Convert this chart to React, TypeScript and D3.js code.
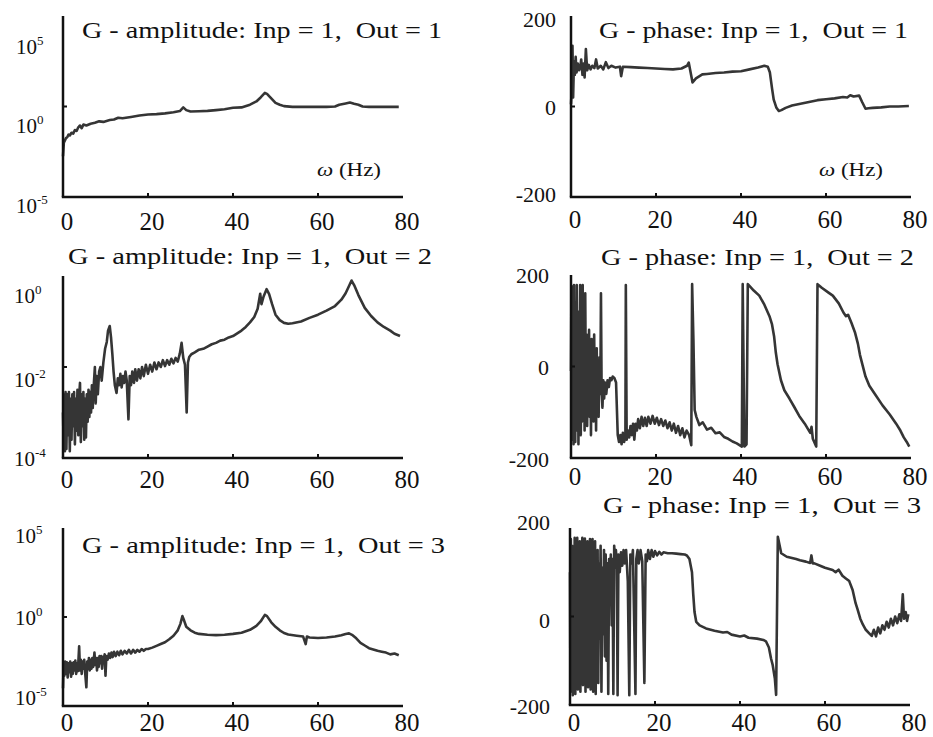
import React from "react";
import * as d3 from "d3";

// ---------- DATA (frequency in Hz, value) ----------
const FREQ_TICKS = [0, 20, 40, 60, 80];
const INNER_FREQ_TICKS = [20, 40, 60];

// amplitude series stored as log10(|G|)
const amp11: [number, number][] = [
  [0, -2.75], [0.2, -2.0], [0.4, -1.9], [0.7, -1.75], [1.0, -1.7], [1.3, -1.55], [1.6, -1.6],
  [2.0, -1.45], [2.4, -1.5], [2.8, -1.3], [3.2, -1.35], [3.6, -1.15], [4.0, -1.05], [4.4, -1.2],
  [4.8, -1.0], [5.5, -1.05], [6.5, -0.95], [7.5, -0.9], [8.5, -0.82], [9.5, -0.85], [11, -0.75],
  [12, -0.72], [13, -0.62], [14, -0.65], [16, -0.58], [18, -0.5], [20, -0.44], [22, -0.42],
  [24, -0.38], [26, -0.32], [27.5, -0.25], [28.3, -0.05], [29, -0.2], [30, -0.28], [32, -0.26],
  [34, -0.24], [36, -0.2], [38, -0.15], [40, -0.07], [42, -0.05], [44, 0.1], [45.5, 0.28],
  [46.5, 0.5], [47.5, 0.75], [48, 0.7], [49, 0.45], [50, 0.2], [51, 0.1], [52, 0.02],
  [54, -0.02], [56, -0.02], [58, -0.02], [60, -0.02], [62, -0.02], [64, 0.0], [65, 0.1],
  [66.5, 0.17], [67.5, 0.22], [68.5, 0.15], [69.5, 0.1], [70.5, 0.0], [72, -0.02], [75, -0.02],
  [79, -0.02],
];

const phase11: [number, number][] = [
  [0.0, 5], [0.2, 40], [0.35, 134], [0.5, 20], [0.7, 100], [0.9, 70], [1.1, 110], [1.3, 75],
  [1.6, 95], [1.9, 80], [2.2, 88], [2.4, 104], [2.7, 70], [3.0, 95], [3.2, 64], [3.5, 127],
  [3.8, 80], [4.2, 92], [4.6, 82], [5.0, 90], [5.5, 85], [5.9, 104], [6.3, 84], [7.0, 90],
  [7.6, 82], [8.2, 98], [8.8, 85], [9.5, 90], [10.5, 86], [11.5, 88], [11.8, 67], [12.2, 88],
  [14, 87], [16, 86], [18, 85], [20, 84], [22, 83], [24, 82], [26, 84], [27.3, 90], [27.7, 97],
  [28.6, 53], [29.4, 62], [30.9, 71], [32, 72], [34, 74], [36, 75], [38, 77], [40, 78],
  [42, 82], [44, 86], [45.5, 90], [46.3, 88], [46.8, 75], [47.3, 40], [47.7, 15], [48.3, -2],
  [48.9, -10], [49.5, -8], [50.5, -3], [52, 2], [54, 6], [56, 10], [58, 14], [60, 16], [62, 18],
  [64, 21], [65, 20], [65.7, 25], [66.5, 22], [67.8, 24], [68.5, 10], [69.3, -5], [70, -4],
  [71, -3], [73, -2], [75, 0], [77, 0], [79.5, 1],
];

const amp12: [number, number][] = [
  [0.0, -3.0], [0.15, -3.7], [0.3, -2.6], [0.45, -3.85], [0.6, -2.55], [0.8, -3.8], [1.0, -2.6],
  [1.2, -3.5], [1.4, -2.55], [1.6, -3.85], [1.8, -2.7], [2.0, -3.6], [2.2, -2.6], [2.4, -3.3],
  [2.6, -2.55], [2.8, -3.7], [3.0, -2.7], [3.2, -3.4], [3.4, -2.5], [3.6, -3.5], [3.8, -2.65],
  [4.0, -2.35], [4.2, -3.65], [4.4, -2.6], [4.6, -3.3], [4.8, -2.55], [5.0, -3.6], [5.2, -2.7],
  [5.4, -3.55], [5.6, -2.6], [5.8, -3.2], [6.0, -2.5], [6.2, -3.1], [6.4, -2.55], [6.6, -3.0],
  [6.8, -2.4], [7.0, -2.9], [7.2, -2.45], [7.5, -2.0], [7.7, -2.8], [7.9, -2.2], [8.2, -2.6],
  [8.5, -2.1], [8.8, -2.0], [9.1, -2.3], [9.5, -1.9], [9.9, -1.6], [10.3, -1.45], [10.6, -1.2],
  [11.0, -1.1], [11.3, -1.35], [11.6, -1.7], [11.9, -2.1], [12.2, -2.4], [12.6, -2.57],
  [12.9, -2.25], [13.2, -2.4], [13.5, -2.15], [13.8, -2.45], [14.1, -2.2], [14.4, -2.35],
  [14.7, -2.1], [15.0, -2.3], [15.4, -3.15], [15.7, -2.2], [16.0, -2.4], [16.3, -2.1],
  [16.7, -2.35], [17.0, -2.05], [17.4, -2.3], [17.8, -2.05], [18.2, -2.25], [18.6, -2.0],
  [19.0, -2.2], [19.5, -1.95], [20.0, -2.15], [20.5, -1.95], [21.0, -2.1], [21.5, -1.9],
  [22.0, -2.05], [22.5, -1.9], [23.0, -2.0], [23.5, -1.85], [24.0, -1.98], [24.5, -1.85],
  [25.0, -1.95], [25.5, -1.82], [26.0, -1.92], [26.5, -1.8], [27.0, -1.88], [27.5, -1.7],
  [27.9, -1.47], [28.3, -1.8], [28.7, -1.95], [29.1, -3.0], [29.4, -1.9], [29.7, -1.78],
  [30.2, -1.72], [31, -1.68], [32, -1.62], [33, -1.6], [34, -1.55], [35, -1.5], [36, -1.47],
  [37, -1.42], [38, -1.4], [39, -1.35], [40, -1.32], [41, -1.26], [42, -1.2], [43, -1.12],
  [44, -1.02], [45, -0.9], [45.8, -0.72], [46.4, -0.39], [46.7, -0.62], [47.2, -0.45],
  [47.9, -0.29], [48.5, -0.4], [49.2, -0.62], [50, -0.85], [51, -0.97], [52, -1.03], [53, -1.05],
  [54, -1.04], [56, -1.0], [58, -0.92], [60, -0.85], [62, -0.76], [64, -0.66], [65.5, -0.52],
  [66.5, -0.38], [67.3, -0.22], [67.9, -0.1], [68.5, -0.2], [69.5, -0.42], [71, -0.7],
  [72.5, -0.88], [74, -1.02], [75.5, -1.12], [77, -1.2], [78, -1.27], [79.3, -1.32],
];

const phase12: [number, number][] = [
  [0.0, -10], [0.1, 170], [0.2, -160], [0.3, 175], [0.4, -120], [0.5, 100], [0.6, -170],
  [0.7, 178], [0.8, -100], [0.9, 140], [1.0, -165], [1.1, 60], [1.2, -140], [1.35, 178],
  [1.5, -130], [1.6, 90], [1.75, -170], [1.9, 120], [2.0, -90], [2.15, 178], [2.3, -150],
  [2.45, 40], [2.6, -120], [2.75, 178], [2.9, -80], [3.05, 100], [3.2, -140], [3.35, 160],
  [3.5, -60], [3.65, 70], [3.8, -130], [3.95, 50], [4.1, -100], [4.25, 80], [4.4, -110],
  [4.55, 20], [4.7, -150], [4.85, 60], [5.0, -90], [5.15, 30], [5.3, -120], [5.45, 70],
  [5.6, -70], [5.75, 10], [5.9, -140], [6.05, 40], [6.2, -80], [6.35, -10], [6.5, -110],
  [6.7, 20], [6.9, -60], [7.05, 160], [7.2, -50], [7.4, -90], [7.6, -30], [7.8, -70], [8.0, -35],
  [8.3, -60], [8.6, -30], [8.9, -45], [9.2, -25], [9.5, -30], [9.8, -22], [10.2, -25],
  [10.6, -35], [11.0, -150], [11.3, -165], [11.6, -150], [11.9, -170], [12.2, -145],
  [12.5, -165], [12.8, -150], [12.9, 178], [13.1, -160], [13.4, -140], [13.7, -155],
  [14.0, -130], [14.3, -150], [14.6, -125], [14.9, -160], [15.2, -125], [15.5, -140],
  [15.8, -115], [16.2, -135], [16.6, -110], [17.0, -130], [17.4, -112], [17.8, -130],
  [18.2, -110], [18.7, -125], [19.2, -108], [19.7, -125], [20.2, -112], [20.7, -128],
  [21.2, -115], [21.7, -130], [22.2, -118], [22.7, -135], [23.2, -122], [23.7, -140],
  [24.2, -125], [24.7, -145], [25.2, -130], [25.7, -150], [26.2, -135], [26.7, -155],
  [27.2, -140], [27.8, -150], [28.3, -172], [28.5, 180], [28.8, 60], [29.1, -95], [29.5, -110],
  [30.2, -128], [31, -122], [32, -138], [33, -134], [34, -146], [35, -144], [36, -154],
  [37, -158], [38, -164], [39, -168], [40.2, -175], [40.4, 180], [40.8, -175], [41.3, -170],
  [41.6, 180], [42.2, 174], [43, 166], [44.3, 155], [45.5, 135], [46.7, 110], [47.3, 92],
  [47.8, 65], [48.2, 30], [48.6, 5], [49.4, -30], [50.2, -52], [51.4, -70], [52.5, -88],
  [53.7, -108], [55, -125], [56.3, -145], [56.6, -132], [56.9, -158], [57.7, -175], [58.0, 180],
  [59, 172], [60.5, 162], [61.6, 155], [63, 138], [64.1, 118], [64.7, 110], [65.2, 113],
  [66, 95], [66.8, 75], [67.5, 50], [68, 25], [68.6, 3], [69.3, -22], [70.2, -42], [71.5, -60],
  [73.3, -85], [75, -105], [76.5, -125], [77.5, -140], [78.3, -155], [79, -165], [79.6, -175],
];

const amp13: [number, number][] = [
  [0.0, -4.0], [0.15, -2.6], [0.3, -3.3], [0.5, -2.5], [0.7, -3.2], [0.9, -2.55], [1.1, -3.4],
  [1.3, -2.6], [1.5, -3.1], [1.7, -2.5], [1.9, -3.35], [2.1, -2.6], [2.3, -3.2], [2.5, -2.55],
  [2.7, -3.0], [2.9, -2.45], [3.1, -3.2], [3.3, -2.6], [3.5, -3.05], [3.8, -1.65], [4.0, -3.0],
  [4.2, -2.4], [4.4, -3.2], [4.6, -2.5], [4.8, -2.9], [5.0, -2.4], [5.2, -3.1], [5.5, -3.95],
  [5.7, -2.5], [5.9, -2.9], [6.1, -2.3], [6.3, -3.0], [6.5, -2.4], [6.7, -2.9], [6.9, -2.3],
  [7.1, -2.8], [7.4, -2.0], [7.6, -2.7], [7.8, -2.3], [8.0, -3.0], [8.2, -2.3], [8.4, -2.8],
  [8.6, -2.2], [8.8, -2.6], [9.0, -2.2], [9.2, -2.9], [9.4, -2.25], [9.6, -2.5], [9.8, -2.1],
  [10.0, -3.3], [10.2, -2.2], [10.5, -2.4], [10.8, -2.05], [11.1, -2.3], [11.4, -2.0],
  [11.7, -2.25], [12.0, -1.95], [12.4, -2.2], [12.8, -1.95], [13.2, -2.15], [13.6, -1.9],
  [14.0, -2.1], [14.5, -1.9], [15.0, -2.05], [15.5, -1.85], [16.0, -2.05], [16.5, -1.85],
  [17.0, -2.0], [17.5, -1.85], [18.0, -1.95], [18.5, -1.8], [19, -1.9], [19.5, -1.8], [20, -1.8],
  [21, -1.72], [22, -1.62], [23, -1.52], [24, -1.42], [25, -1.25], [26, -1.05], [27, -0.75],
  [27.6, -0.4], [28.1, 0.05], [28.5, -0.2], [29, -0.55], [30, -0.75], [31, -0.88], [32, -0.95],
  [34, -1.0], [36, -1.02], [38, -1.0], [40, -0.95], [42, -0.88], [44, -0.72], [45.5, -0.5],
  [46.5, -0.25], [47.5, 0.12], [48, 0.05], [49, -0.3], [50, -0.55], [51, -0.75], [52, -0.9],
  [53, -0.98], [55, -1.05], [56.5, -1.1], [57.1, -1.52], [57.4, -1.1], [58, -1.15], [60, -1.18],
  [62, -1.15], [64, -1.1], [65.5, -1.02], [66.5, -0.95], [67.3, -0.92], [68, -1.0], [69, -1.2],
  [70, -1.45], [71, -1.6], [72, -1.75], [73, -1.82], [74, -1.9], [75, -1.95], [76, -2.0],
  [77, -2.1], [78, -2.05], [79, -2.15],
];

const phase13: [number, number][] = [
  [0.0, 100], [0.1, -170], [0.2, 175], [0.35, -120], [0.5, 160], [0.65, -178], [0.8, 120],
  [0.95, -60], [1.1, 178], [1.25, -175], [1.4, 150], [1.55, -100], [1.7, 178], [1.85, -165],
  [2.0, 80], [2.15, -130], [2.3, 170], [2.45, -170], [2.6, 140], [2.75, -60], [2.9, 178],
  [3.05, -155], [3.2, 120], [3.35, -90], [3.5, 176], [3.65, -170], [3.8, 100], [3.95, -120],
  [4.1, 170], [4.25, -160], [4.4, 60], [4.55, -40], [4.7, 175], [4.85, -165], [5.0, 140],
  [5.15, -100], [5.3, 175], [5.45, -170], [5.6, 90], [5.75, -20], [5.9, 170], [6.05, -175],
  [6.2, 130], [6.35, -80], [6.5, 150], [6.65, -150], [6.8, 120], [7.0, -50], [7.2, 160],
  [7.4, -170], [7.6, 110], [7.8, -40], [8.0, 150], [8.2, -90], [8.4, 140], [8.6, -100],
  [8.8, 120], [9.0, -175], [9.2, 130], [9.4, 60], [9.6, 140], [9.8, -20], [10.0, 130],
  [10.2, -175], [10.4, 160], [10.6, 110], [10.8, 150], [11.0, 120], [11.2, -178], [11.4, 140],
  [11.7, 100], [12.0, 145], [12.3, 115], [12.6, 150], [12.9, 120], [13.2, 150], [13.6, 80],
  [13.95, -178], [14.2, 140], [14.5, 120], [14.8, 150], [15.4, -175], [15.6, 130], [15.9, 150],
  [16.2, 120], [16.6, 150], [17.0, 125], [17.5, -150], [17.8, 140], [18.1, 125], [18.4, 150],
  [18.8, 130], [19.2, 150], [19.6, 135], [20, 148], [20.5, 138], [21, 146], [21.5, 140],
  [22, 145], [23, 143], [24, 143], [25, 142], [26, 141], [27, 140], [27.5, 138], [28.1, 130],
  [28.7, 100], [29.0, 50], [29.3, 10], [29.7, -12], [30.5, -20], [32, -27], [34, -32],
  [36, -36], [37, -35], [38, -41], [40, -45], [41, -43], [42, -48], [44, -50], [45.5, -53],
  [46.1, -56], [46.8, -70], [47.3, -95], [47.7, -110], [48.2, -140], [48.5, -177], [48.9, 180],
  [49.7, 143], [51, 135], [53.2, 130], [54.1, 127], [55.5, 124], [56.5, 121], [56.8, 138],
  [57.1, 120], [57.5, 120], [59, 114], [60, 110], [61.8, 105], [62.5, 100], [63.2, 106],
  [64.1, 92], [64.9, 86], [65.7, 80], [66.5, 60], [67.2, 30], [67.7, 15], [68.3, -5],
  [68.9, -18], [69.6, -30], [70.4, -38], [71.0, -44], [71.5, -30], [72.0, -45], [72.5, -25],
  [73.0, -38], [73.5, -20], [74.0, -30], [74.5, -12], [75.0, -25], [75.5, -5], [76.0, -20],
  [76.5, 0], [77.0, -15], [77.5, 5], [77.9, -10], [78.3, 50], [78.6, -5], [79.0, 10],
  [79.3, -10], [79.6, 5],
];

// ---------- LAYOUT ----------
const W = 933;
const H = 737;

type YLabel = { v: number; text: string; sup?: string; dy: number };
type Panel = {
  key: string;
  data: [number, number][];
  log: boolean;
  xRange: [number, number];
  yDomain: [number, number];
  yRange: [number, number];
  midTick: number;
  title: string;
  titleX: number;
  titleY: number;
  titleW: number;
  yLabels: YLabel[];
  yLabelX: number;
  yAnchor: "start" | "end";
  xLabelY: number;
  omega?: { x: number; y: number };
};

const panels: Panel[] = [
  {
    key: "a11", data: amp11, log: true, xRange: [63, 403], yDomain: [1e-5, 1e5], yRange: [197, 16],
    midTick: 1, title: "G - amplitude: Inp = 1,  Out = 1", titleX: 82, titleY: 38, titleW: 360,
    yLabels: [
      { v: 1e5, text: "10", sup: "5", dy: 38 },
      { v: 1, text: "10", sup: "0", dy: 26 },
      { v: 1e-5, text: "10", sup: "-5", dy: 16 },
    ],
    yLabelX: 16, yAnchor: "start", xLabelY: 230, omega: { x: 317, y: 176 },
  },
  {
    key: "p11", data: phase11, log: false, xRange: [571, 911], yDomain: [-200, 200], yRange: [197, 16],
    midTick: 0, title: "G - phase: Inp = 1,  Out = 1", titleX: 599, titleY: 38, titleW: 309,
    yLabels: [
      { v: 200, text: "200", dy: 11 },
      { v: 0, text: "0", dy: 8.5 },
      { v: -200, text: "-200", dy: 5 },
    ],
    yLabelX: 556, yAnchor: "end", xLabelY: 228, omega: { x: 819, y: 176 },
  },
  {
    key: "a12", data: amp12, log: true, xRange: [63, 403], yDomain: [1e-4, 1], yRange: [458, 276],
    midTick: 1e-2, title: "G - amplitude: Inp = 1,  Out = 2", titleX: 68, titleY: 264, titleW: 364,
    yLabels: [
      { v: 1, text: "10", sup: "0", dy: 27 },
      { v: 1e-2, text: "10", sup: "-2", dy: 20 },
      { v: 1e-4, text: "10", sup: "-4", dy: 8 },
    ],
    yLabelX: 14, yAnchor: "start", xLabelY: 488,
  },
  {
    key: "p12", data: phase12, log: false, xRange: [571, 911], yDomain: [-200, 200], yRange: [458, 275],
    midTick: 0, title: "G - phase: Inp = 1,  Out = 2", titleX: 601, titleY: 265, titleW: 313,
    yLabels: [
      { v: 200, text: "200", dy: 8 },
      { v: 0, text: "0", dy: 8.5 },
      { v: -200, text: "-200", dy: 9 },
    ],
    yLabelX: 549, yAnchor: "end", xLabelY: 485,
  },
  {
    key: "a13", data: amp13, log: true, xRange: [63, 403], yDomain: [1e-5, 1e5], yRange: [706, 528],
    midTick: 1, title: "G - amplitude: Inp = 1,  Out = 3", titleX: 82, titleY: 553, titleW: 363,
    yLabels: [
      { v: 1e5, text: "10", sup: "5", dy: 15 },
      { v: 1, text: "10", sup: "0", dy: 8 },
      { v: 1e-5, text: "10", sup: "-5", dy: -1 },
    ],
    yLabelX: 15, yAnchor: "start", xLabelY: 731,
  },
  {
    key: "p13", data: phase13, log: false, xRange: [570, 910], yDomain: [-200, 200], yRange: [705, 528],
    midTick: 0, title: "G - phase: Inp = 1,  Out = 3", titleX: 603, titleY: 513, titleW: 318,
    yLabels: [
      { v: 200, text: "200", dy: 2 },
      { v: 0, text: "0", dy: 11.5 },
      { v: -200, text: "-200", dy: 9 },
    ],
    yLabelX: 550, yAnchor: "end", xLabelY: 731,
  },
];

const FONT = "'Liberation Serif', 'Times New Roman', serif";
const INK = "#111";
const LINE = "#353535";

function PanelView({ p }: { p: Panel }) {
  const x = d3.scaleLinear().domain([0, 80]).range(p.xRange);
  const y = p.log
    ? d3.scaleLog().domain(p.yDomain).range(p.yRange)
    : d3.scaleLinear().domain(p.yDomain).range(p.yRange);
  const line = d3
    .line<[number, number]>()
    .x((d) => x(d[0]))
    .y((d) => (p.log ? y(Math.pow(10, d[1])) : y(d[1])));
  const [x0, x1] = p.xRange;
  const [yb, yt] = p.yRange;
  return (
    <g>
      <path d={line(p.data) || ""} fill="none" stroke={LINE} strokeWidth={2.6} strokeLinejoin="round" />
      <line x1={x0} x2={x0} y1={yt} y2={yb} stroke={INK} strokeWidth={2.5} />
      <line x1={x0 - 1.2} x2={x1} y1={yb} y2={yb} stroke={INK} strokeWidth={2.5} />
      {INNER_FREQ_TICKS.map((t) => (
        <line key={t} x1={x(t)} x2={x(t)} y1={yb} y2={yb - 4} stroke={INK} strokeWidth={2} />
      ))}
      <line x1={x0} x2={x0 + 4} y1={y(p.midTick)} y2={y(p.midTick)} stroke={INK} strokeWidth={2} />
      {FREQ_TICKS.map((t) => (
        <text key={t} x={x(t) + 4} y={p.xLabelY} fontSize={25} textAnchor="middle" fontFamily={FONT} fill={INK}>
          {t}
        </text>
      ))}
      {p.yLabels.map((l, i) => (
        <text key={i} x={p.yLabelX} y={y(l.v) + l.dy} fontSize={p.log ? 21 : 22} textAnchor={p.yAnchor} fontFamily={FONT} fill={INK}>
          {l.text}
          {l.sup ? (
            <tspan fontSize={13} dy={-9}>
              {l.sup}
            </tspan>
          ) : null}
        </text>
      ))}
      <text
        x={p.titleX}
        y={p.titleY}
        fontSize={24}
        fontFamily={FONT}
        fill={INK}
        textLength={p.titleW}
        lengthAdjust="spacingAndGlyphs"
        style={{ whiteSpace: "pre" }}
      >
        {p.title}
      </text>
      {p.omega ? (
        <text x={p.omega.x} y={p.omega.y} fontSize={18} fontFamily={FONT} fill={INK} textLength={64} lengthAdjust="spacingAndGlyphs">
          <tspan fontStyle="italic">ω</tspan> (Hz)
        </text>
      ) : null}
    </g>
  );
}

export default function App() {
  return (
    <svg
      width={W}
      height={H}
      viewBox={`0 0 ${W} ${H}`}
      style={{ position: "absolute", left: 0, top: 0, background: "#fff" }}
    >
      <rect x={0} y={0} width={W} height={H} fill="#fff" />
      {panels.map((p) => (
        <PanelView key={p.key} p={p} />
      ))}
    </svg>
  );
}
